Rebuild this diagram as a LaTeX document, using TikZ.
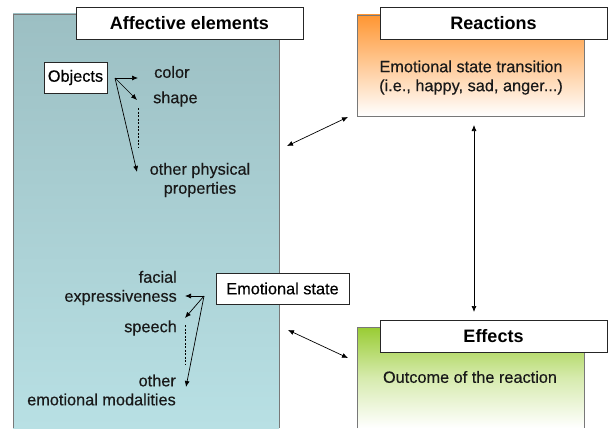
\documentclass[tikz,border=0pt]{standalone}
\usepackage{fontspec}
\setmainfont{Liberation Sans}
\newfontfamily\bodyfont[FakeBold=0.35]{Liberation Sans}
\usetikzlibrary{arrows.meta}
\definecolor{tealtop}{RGB}{156,191,195}
\definecolor{tealbot}{RGB}{184,224,228}
\definecolor{orangetop}{RGB}{255,150,50}
\definecolor{greentop}{RGB}{153,204,51}
\definecolor{panelborder}{RGB}{120,120,120}
\tikzset{
  titlebox/.style={draw=black!85, fill=white, line width=0.8pt, inner sep=0pt,
    font=\fontsize{18}{20}\selectfont\bfseries},
  labelbox/.style={draw=black!85, fill=white, line width=0.8pt, inner sep=0pt,
    font=\bodyfont\fontsize{16.3}{18}\selectfont},
  txt/.style={inner sep=0pt, font=\bodyfont\fontsize{16.3}{19}\selectfont, text=black!90},
  conn/.style={line width=0.7pt, -{Latex[length=6pt,width=5pt]}},
  dconn/.style={line width=0.7pt, {Latex[length=6pt,width=5pt]}-{Latex[length=6pt,width=5pt]}},
  dotted line/.style={line width=0.7pt, dash pattern=on 2pt off 1.5pt},
}
\begin{document}
\begin{tikzpicture}[x=1pt,y=-1pt]
\useasboundingbox (0,0) rectangle (609,428);
\fill[white] (0,0) rectangle (609,428);
% left panel
\shade[top color=tealtop, bottom color=tealbot] (13,14) rectangle (279,428);
\draw[panelborder, line width=0.8pt] (13,428) -- (13,14) -- (279,14) -- (279,428);
% reactions panel
\shade[top color=orangetop, bottom color=white, middle color=orangetop!50] (357,15) rectangle (584,116);
\draw[panelborder, line width=0.8pt] (357,15) rectangle (584,116);
% effects panel
\shade[top color=greentop, bottom color=white, middle color=greentop!40!white] (357,327) rectangle (584,428);
\draw[panelborder, line width=0.8pt] (357,428) -- (357,327) -- (584,327) -- (584,428);

% titles
\node[titlebox, minimum width=227pt, minimum height=32pt] (aff) at (189.5,23) {Affective elements};
\node[titlebox, minimum width=227pt, minimum height=32pt] (rea) at (493.5,23) {Reactions};
\node[titlebox, minimum width=227pt, minimum height=32pt] (eff) at (493.5,336) {Effects};

% reactions body
\node[txt, align=center] (reabody) at (471,77.5) {Emotional state transition\\(i.e., happy, sad, anger...)};
\node[txt] (effbody) at (470,377) {Outcome of the reaction};

% objects
\node[labelbox, minimum width=63pt, minimum height=31pt] (obj) at (75.5,77.5) {Objects};
\coordinate (objo) at (115,78);
\node[txt, anchor=west] (color) at (154,72) {color};
\node[txt, anchor=west] (shape) at (153,99) {shape};
\node[txt, align=center] (other) at (200,180) {other physical\\properties};
\coordinate (ce) at (138,78);
\coordinate (se) at (137,100);
\coordinate (oe) at (137,172);
\draw[conn] (objo) -- (ce);
\draw[conn] (objo) -- (se);
\draw[conn] (objo) -- (oe);
\coordinate (d1a) at (138,108);
\coordinate (d1b) at (138,147);
\draw[dotted line] (d1a) -- (d1b);

% emotional state
\node[labelbox, minimum width=133pt, minimum height=31pt] (emo) at (282.5,288.5) {Emotional state};
\coordinate (emoo) at (204,296);
\node[txt, anchor=east, align=right] (facial) at (177,288) {facial\\expressiveness};
\node[txt, anchor=east] (speech) at (177,328) {speech};
\node[txt, anchor=east, align=right] (othere) at (176,390) {other\\emotional modalities};
\coordinate (fe) at (185,296);
\coordinate (spe) at (185,318);
\coordinate (ote) at (186,387);
\draw[conn] (emoo) -- (fe);
\draw[conn] (emoo) -- (spe);
\draw[conn] (emoo) -- (ote);
\coordinate (d2a) at (185,325);
\coordinate (d2b) at (185,365);
\draw[dotted line] (d2a) -- (d2b);

% connectors between panels
\coordinate (a1) at (287,146);
\coordinate (a2) at (348,117);
\draw[dconn] (a1) -- (a2);
\coordinate (b1) at (288,330);
\coordinate (b2) at (348,358);
\draw[dconn] (b1) -- (b2);
\coordinate (v1) at (474,125);
\coordinate (v2) at (474,312);
\draw[dconn] (v1) -- (v2);
\end{tikzpicture}
\end{document}
